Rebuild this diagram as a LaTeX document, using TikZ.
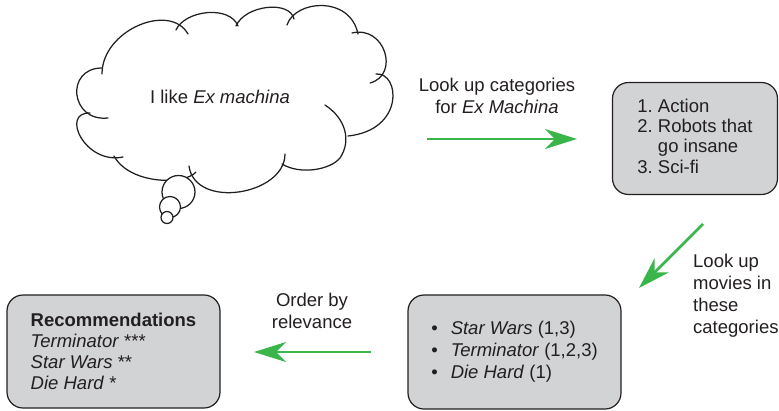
\documentclass[tikz,border=0pt]{standalone}
\usepackage{fontspec}
\setmainfont{Liberation Sans}
\usetikzlibrary{arrows.meta}
\definecolor{arrowgreen}{RGB}{57,181,74}
\definecolor{boxgray}{RGB}{209,211,212}
\definecolor{ink}{RGB}{35,31,32}
\begin{document}
\begin{tikzpicture}[x=1pt,y=-1pt,
  txt/.style={font=\fontsize{18.5}{22}\selectfont, text=ink, inner sep=0pt},
  box/.style={draw=ink, line width=1.2pt, fill=boxgray, rounded corners=16pt,
    font=\fontsize{18.5}{21}\selectfont, text=ink, inner sep=0pt},
  flow/.style={draw=arrowgreen, line width=2.6pt,
    -{Stealth[length=32pt,width=20pt,inset=10pt]}},
  outline/.style={draw=ink, line width=1.25pt, line cap=round},
  bubble/.style={draw=ink, line width=1.25pt, fill=white}]
\useasboundingbox (0,0) rectangle (779,410);

% thought cloud, drawn bump by bump
\draw[outline] (102,74) .. controls (102,30) and (170,2) .. (188,34);
\draw[outline] (176,30) .. controls (185,10) and (230,5) .. (238,26);
\draw[outline] (236,26) .. controls (245,5) and (290,0) .. (294,19);
\draw[outline] (287,25) .. controls (295,0) and (350,-5) .. (358,34);
\draw[outline] (352,33) .. controls (385,25) and (400,75) .. (370,83);
\draw[outline] (376,74) .. controls (400,72) and (405,130) .. (348,136);
\draw[outline] (325,105) .. controls (345,118) and (352,140) .. (340,158)
  .. controls (330,170) and (300,175) .. (282,164);
\draw[outline] (285,154) .. controls (285,195) and (195,210) .. (189,166);
\draw[outline] (196,172) .. controls (185,185) and (130,185) .. (114,156);
\draw[outline] (123,157) .. controls (85,165) and (60,112) .. (90,113);
\draw[outline] (108,118) .. controls (70,122) and (65,68) .. (102,68);
\node[bubble, circle, minimum size=33pt, inner sep=0pt] (bub1) at (178.5,192) {};
\node[bubble, circle, minimum size=21pt, inner sep=0pt] (bub2) at (170,207) {};
\node[bubble, circle, minimum size=12pt, inner sep=0pt] (bub3) at (167,217.5) {};
\node[txt] (thought) at (220,97) {I like \textit{Ex machina}};

% boxes
\node[box, minimum width=165pt, minimum height=112pt] (cats) at (695,138.5)
  {\fontsize{18.5}{20.3}\selectfont\begin{tabular}{@{}r@{~}l@{}}1.&Action\\2.&Robots that\\&go insane\\3.&Sci-fi\end{tabular}};
\node[box, minimum width=213pt, minimum height=114pt] (movies) at (514.5,352)
  {\fontsize{18.5}{22}\selectfont\begin{tabular}{@{}l@{\hspace{13pt}}l@{}}\textbullet&\textit{Star Wars} (1,3)\\\textbullet&\textit{Terminator} (1,2,3)\\\textbullet&\textit{Die Hard} (1)\end{tabular}};
\node[box, minimum width=213pt, minimum height=113pt, align=left] (recs) at (113.5,351.5)
  {\textbf{Recommendations}\\\textit{Terminator} ***\\\textit{Star Wars} **\\\textit{Die Hard} *};

% labels
\node[txt, align=center] (l1) at (497,96) {Look up categories\\for \textit{Ex Machina}};
\node[txt, align=left, anchor=west] (l2) at (693,296) {Look up\\movies in\\these\\categories};
\node[txt, align=center] (l3) at (312,311) {Order by\\relevance};

% arrows
\coordinate (a1s) at (427,139); \coordinate (a1e) at (577,139);
\coordinate (a2s) at (703,224); \coordinate (a2e) at (639,288);
\coordinate (a3s) at (371,352); \coordinate (a3e) at (254,352);
\draw[flow] (a1s) -- (a1e);
\draw[flow] (a2s) -- (a2e);
\draw[flow] (a3s) -- (a3e);
\end{tikzpicture}
\end{document}
